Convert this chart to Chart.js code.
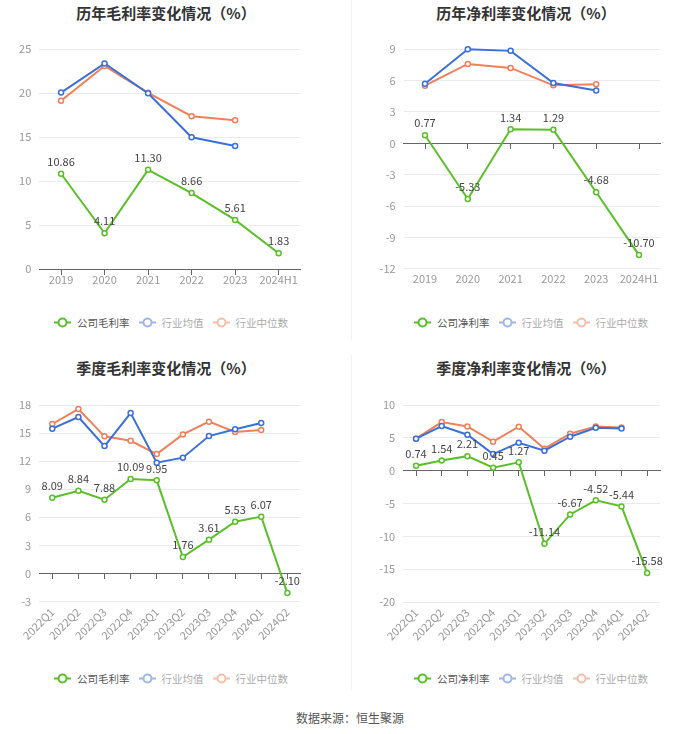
<!DOCTYPE html>
<html>
<head>
<meta charset="utf-8">
<script src="https://cdn.jsdelivr.net/npm/chart.js@4.4.1/dist/chart.umd.min.js"></script>
<style>
    body { margin: 0; background: #fff; font-family: 'Noto Sans CJK SC', 'Noto Sans', sans-serif; }
    #page { position: relative; width: 700px; height: 734px; overflow: hidden; }
    canvas { position: absolute; }
    .title { position: absolute; transform: translate(-50%, -50%); font-size: 15px; font-weight: bold; color: #333; white-space: nowrap; }
    .legend { position: absolute; transform: translate(-50%, -50%); display: flex; align-items: center; font-size: 10.5px; color: #555; white-space: nowrap; }
    .legend .item { display: flex; align-items: center; margin-right: 9px; }
    .legend .item:last-child { margin-right: 0; }
    .legend .item svg { margin-right: 6px; }
    .legend .faded { opacity: 0.5; }
    .divider { position: absolute; left: 351px; width: 1px; background: #f2f2f2; }
    #source { position: absolute; left: 350px; top: 717px; transform: translate(-50%, -50%); font-size: 12px; color: #555; white-space: nowrap; }
</style>
</head>
<body>
<div id="page">
    <div class="divider" style="top:0;height:340px"></div>
    <div class="divider" style="top:355px;height:335px"></div>

    <div class="title" style="left:166px;top:12px">历年毛利率变化情况（%）</div>
    <div class="title" style="left:526px;top:12px">历年净利率变化情况（%）</div>
    <div class="title" style="left:166px;top:367px">季度毛利率变化情况（%）</div>
    <div class="title" style="left:526px;top:367px">季度净利率变化情况（%）</div>

    <canvas id="c1" width="350" height="260" style="left:0;top:30px"></canvas>
    <canvas id="c2" width="350" height="260" style="left:350px;top:30px"></canvas>
    <canvas id="c3" width="350" height="270" style="left:0;top:380px"></canvas>
    <canvas id="c4" width="350" height="270" style="left:350px;top:380px"></canvas>

    <div class="legend" id="l1" style="left:171px;top:322px"></div>
    <div class="legend" id="l2" style="left:531px;top:322px"></div>
    <div class="legend" id="l3" style="left:171px;top:678px"></div>
    <div class="legend" id="l4" style="left:531px;top:678px"></div>

    <div id="source">数据来源：恒生聚源</div>
</div>
<script>
const yearLabels = ['2019', '2020', '2021', '2022', '2023', '2024H1'];
const quarterLabels = ['2022Q1', '2022Q2', '2022Q3', '2022Q4', '2023Q1', '2023Q2', '2023Q3', '2023Q4', '2024Q1', '2024Q2'];

const yearGross = [10.86, 4.11, 11.30, 8.66, 5.61, 1.83];
const yearGrossAvg = [20.08, 23.4, 20.0, 15.0, 14.0, null];
const yearGrossMedian = [19.15, 23.1, 20.05, 17.4, 16.95, null];

const yearNet = [0.77, -5.33, 1.34, 1.29, -4.68, -10.70];
const yearNetAvg = [5.7, 9.0, 8.85, 5.78, 5.05, null];
const yearNetMedian = [5.52, 7.6, 7.22, 5.55, 5.65, null];

const quarterGross = [8.09, 8.84, 7.88, 10.09, 9.95, 1.76, 3.61, 5.53, 6.07, -2.10];
const quarterGrossAvg = [15.47, 16.71, 13.61, 17.14, 11.83, 12.37, 14.68, 15.4, 16.07, null];
const quarterGrossMedian = [15.97, 17.57, 14.65, 14.18, 12.76, 14.86, 16.22, 15.11, 15.32, null];

const quarterNet = [0.74, 1.54, 2.21, 0.45, 1.27, -11.14, -6.67, -4.52, -5.44, -15.58];
const quarterNetAvg = [4.87, 6.79, 5.47, 2.53, 4.26, 3.04, 5.17, 6.54, 6.44, null];
const quarterNetMedian = [4.87, 7.4, 6.74, 4.41, 6.69, 3.35, 5.63, 6.74, 6.59, null];

const GREEN = '#5bbf2a';
const BLUE = '#3d6fd8';
const ORANGE = '#f0805a';
const FONT = "'Noto Sans CJK SC', 'Noto Sans', sans-serif";

Chart.defaults.font.family = FONT;

// value labels above the company series
const valueLabels = {
    id: 'valueLabels',
    afterDatasetsDraw(chart) {
        const ctx = chart.ctx;
        const meta = chart.getDatasetMeta(0);
        const data = chart.data.datasets[0].data;
        ctx.save();
        ctx.font = '11px ' + FONT;
        ctx.fillStyle = '#444';
        ctx.textAlign = 'center';
        ctx.textBaseline = 'middle';
        meta.data.forEach((pt, i) => {
            ctx.fillText(data[i].toFixed(2), pt.x, pt.y - 12);
        });
        ctx.restore();
    }
};

function lineSet(label, data, color, width) {
    return {
        label: label,
        data: data,
        borderColor: color,
        backgroundColor: '#fff',
        borderWidth: width,
        pointRadius: 2.5,
        pointBorderWidth: 1.5,
        pointBackgroundColor: '#fff',
        pointBorderColor: color,
        tension: 0,
        clip: false,
        spanGaps: false
    };
}

function makeChart(id, labels, name, company, avg, median, y, box) {
    return new Chart(document.getElementById(id), {
        type: 'line',
        data: {
            labels: labels,
            datasets: [
                lineSet(name, company, GREEN, 2),
                lineSet('行业均值', avg, BLUE, 2),
                lineSet('行业中位数', median, ORANGE, 2)
            ]
        },
        options: {
            responsive: false,
            animation: false,
            layout: { padding: { top: box.top, right: box.right, bottom: 0, left: 0 } },
            plugins: {
                legend: { display: false },
                title: { display: false },
                tooltip: { enabled: false }
            },
            scales: {
                x: {
                    type: 'category',
                    offset: true,
                    grid: { display: false, drawTicks: false },
                    border: { display: false },
                    ticks: {
                        color: '#999',
                        font: { size: 11 },
                        padding: box.tickPad,
                        autoSkip: false,
                        minRotation: box.rot,
                        maxRotation: box.rot
                    },
                    afterFit: s => { s.height = box.xh; }
                },
                x2: {
                    type: 'category',
                    position: { y: 0 },
                    offset: true,
                    grid: { offset: false, drawOnChartArea: false, drawTicks: true, tickLength: 5, color: '#666' },
                    border: { display: true, color: '#666' },
                    ticks: { display: false }
                },
                y: {
                    min: y.min,
                    max: y.max,
                    ticks: { stepSize: y.step, color: '#999', font: { size: 11 }, padding: 8 },
                    grid: { color: '#e9ebef', drawTicks: false },
                    border: { display: false },
                    afterFit: s => { s.width = box.yw; }
                }
            }
        },
        plugins: [valueLabels]
    });
}

function makeLegend(id, name) {
    const items = [[name, GREEN, ''], ['行业均值', BLUE, 'faded'], ['行业中位数', ORANGE, 'faded']];
    document.getElementById(id).innerHTML = items.map(([text, color, cls]) =>
        `<span class="item ${cls}"><svg width="17" height="12"><line x1="0" y1="6" x2="17" y2="6" stroke="${color}" stroke-width="2"/>` +
        `<circle cx="8.5" cy="6" r="4" fill="#fff" stroke="${color}" stroke-width="2"/></svg>${text}</span>`
    ).join('');
}

makeChart('c1', yearLabels, '公司毛利率', yearGross, yearGrossAvg, yearGrossMedian,
    { min: 0, max: 25, step: 5 }, { top: 19.3, right: 49.6, yw: 39.3, xh: 20.7, rot: 0, tickPad: 4 });
makeChart('c2', yearLabels, '公司净利率', yearNet, yearNetAvg, yearNetMedian,
    { min: -12, max: 9, step: 3 }, { top: 19.3, right: 39.6, yw: 53.6, xh: 21.3, rot: 0, tickPad: 4 });
makeChart('c3', quarterLabels, '公司毛利率', quarterGross, quarterGrossAvg, quarterGrossMedian,
    { min: -3, max: 18, step: 3 }, { top: 25, right: 49.6, yw: 39.2, xh: 48.5, rot: 45, tickPad: 4 });
makeChart('c4', quarterLabels, '公司净利率', quarterNet, quarterNetAvg, quarterNetMedian,
    { min: -20, max: 10, step: 5 }, { top: 25, right: 40, yw: 53.2, xh: 48, rot: 45, tickPad: 4 });

makeLegend('l1', '公司毛利率');
makeLegend('l2', '公司净利率');
makeLegend('l3', '公司毛利率');
makeLegend('l4', '公司净利率');
</script>
</body>
</html>
